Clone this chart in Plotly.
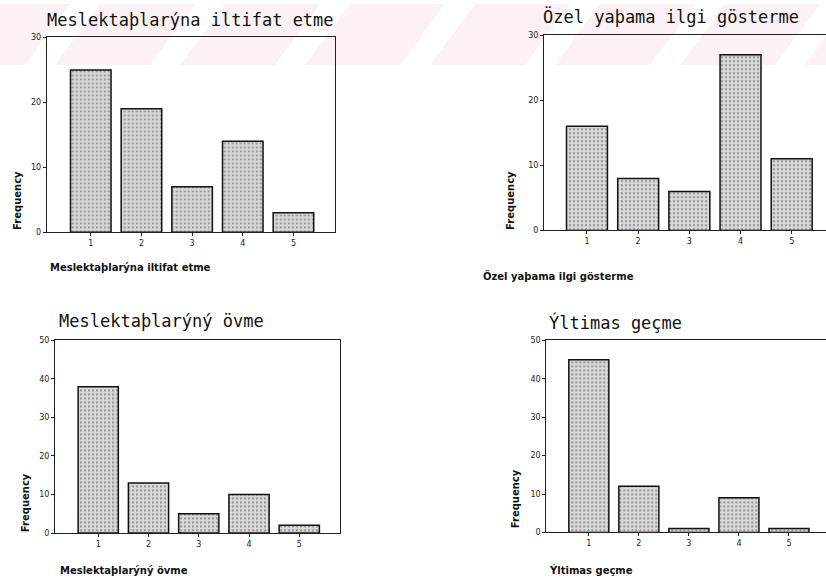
import plotly.graph_objects as go

W, H = 826, 583

categories = [1, 2, 3, 4, 5]
tick_labels = ["1", "2", "3", "4", "5"]

values_iltifat = [25, 19, 7, 14, 3]
values_ozel = [16, 8, 6, 27, 11]
values_ovme = [38, 13, 5, 10, 2]
values_iltimas = [45, 12, 1, 9, 1]

titles = ["Meslektaþlarýna iltifat etme", "Özel yaþama ilgi gösterme",
          "Meslektaþlarýný övme", "Ýltimas geçme"]
xlabels = ["Meslektaþlarýna iltifat etme", "Özel yaþama ilgi gösterme",
           "Meslektaþlarýný övme", "Ýltimas geçme"]
ylabel = "Frequency"

y_ticks_top = [0, 10, 20, 30]
y_ticks_bottom = [0, 10, 20, 30, 40, 50]


def px_x(p):
    return p / W


def px_y(p):
    return 1 - p / H


fig = go.Figure()

panels = [
    (values_iltifat, (46.7, 335), (34, 231.7), [0.13, 5.82], [0, 30], y_ticks_top, False),
    (values_ozel, (544, 826), (31.7, 230), [0.16, 5.67], [0, 30], y_ticks_top, True),
    (values_ovme, (55, 340), (341.7, 537.3), [0.14, 5.81], [0, 50], y_ticks_bottom, False),
    (values_iltimas, (546.3, 826), (341.7, 536.7), [0.15, 5.74], [0, 50], y_ticks_bottom, True),
]

layout_axes = {}
for i, (vals, xd, yd, xr, yr, yt, open_right) in enumerate(panels):
    n = i + 1
    xa = "x" if n == 1 else f"x{n}"
    ya = "y" if n == 1 else f"y{n}"
    fig.add_trace(go.Bar(
        x=categories, y=vals, xaxis=xa, yaxis=ya, width=0.8,
        marker=dict(
            color="#d4d4d4",
            line=dict(color="#111111", width=1.5),
            pattern=dict(shape=".", fgcolor="#5a5a5a", bgcolor="#dcdcdc",
                         size=4, solidity=0.35),
        ),
        showlegend=False, hoverinfo="x+y",
    ))
    xkey = "xaxis" if n == 1 else f"xaxis{n}"
    ykey = "yaxis" if n == 1 else f"yaxis{n}"
    layout_axes[xkey] = dict(
        domain=[px_x(xd[0]), min(1.0, px_x(xd[1]))],
        anchor=ya, range=xr, tickvals=categories, ticktext=tick_labels,
        showline=True, linecolor="#222222", linewidth=1, mirror=True,
        ticks="outside", ticklen=3, tickcolor="#222222",
        showgrid=False, zeroline=False,
        tickfont=dict(family="DejaVu Sans", size=8, color="#222222"),
    )
    layout_axes[ykey] = dict(
        domain=[px_y(yd[1]), px_y(yd[0])],
        anchor=xa, range=yr, tickvals=yt,
        showline=True, linecolor="#222222", linewidth=1,
        mirror=(not open_right),
        ticks="outside", ticklen=3, tickcolor="#222222",
        showgrid=False, zeroline=False,
        tickfont=dict(family="DejaVu Sans", size=8, color="#222222"),
    )

annotations = []
title_pos = [(45, 16), (541, 13), (57, 322), (547, 323)]
xlabel_pos = [(48, 268), (481, 276), (58, 575), (547, 575)]
ylabel_pos = [(18, 200), (511, 200), (25, 507), (515, 503)]

for t, (x, y) in zip(titles, title_pos):
    annotations.append(dict(text=t, x=px_x(x), y=px_y(y), xref="paper", yref="paper",
                            xanchor="left", yanchor="middle", showarrow=False,
                            font=dict(family="DejaVu Sans Mono", size=17, color="#111111")))
for t, (x, y) in zip(xlabels, xlabel_pos):
    annotations.append(dict(text=t, x=px_x(x), y=px_y(y), xref="paper", yref="paper",
                            xanchor="left", yanchor="middle", showarrow=False,
                            font=dict(family="DejaVu Sans", size=10, color="#111111",
                                      weight="bold")))
for (x, y) in ylabel_pos:
    annotations.append(dict(text=ylabel, x=px_x(x), y=px_y(y), xref="paper", yref="paper",
                            xanchor="center", yanchor="middle", showarrow=False,
                            textangle=-90,
                            font=dict(family="DejaVu Sans", size=10, color="#111111",
                                      weight="bold")))

# faint pink diagonal watermark bands at the top of the scan
shapes = []
for k in range(8):
    x0 = -70 + k * 125
    pts = [(x0, 62), (x0 + 95, 62), (x0 + 95 + 45, 0), (x0 + 45, 0)]
    path = "M " + " L ".join(f"{px_x(a):.4f},{px_y(b):.4f}" for a, b in pts) + " Z"
    shapes.append(dict(type="path", path=path, xref="paper", yref="paper",
                       fillcolor="rgba(240,180,195,0.18)", line=dict(width=0),
                       layer="below"))

fig.update_layout(
    width=W, height=H,
    margin=dict(l=0, r=0, t=0, b=0),
    paper_bgcolor="white", plot_bgcolor="rgba(0,0,0,0)",
    annotations=annotations, shapes=shapes,
    bargap=0.2,
    **layout_axes,
)

fig.write_html("out.html",
               config={"displayModeBar": False},
               post_script="document.body.style.margin='0';document.body.style.overflow='hidden';")
